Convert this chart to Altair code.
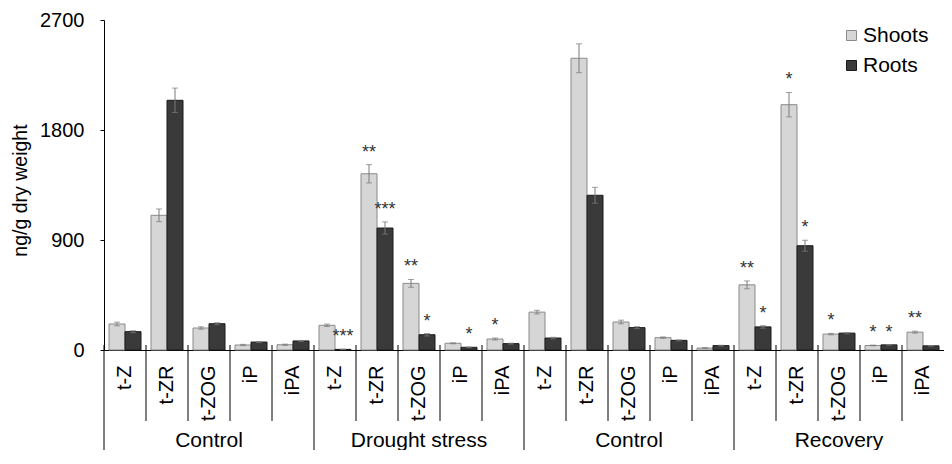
import altair as alt
import pandas as pd

FONT = "Liberation Sans, Arial, sans-serif"

groups = ["Control", "Drought stress", "Control", "Recovery"]
hormones = ["t-Z", "t-ZR", "t-ZOG", "iP", "iPA"]
series = ["Shoots", "Roots"]

shoots = [213, 1102, 180, 41, 43,
          202, 1442, 545, 55, 90,
          310, 2387, 229, 101, 16,
          533, 2007, 130, 37, 146]
roots = [150, 2043, 215, 65, 74,
         5, 998, 125, 22, 52,
         98, 1266, 183, 79, 36,
         189, 853, 138, 42, 34]
shoots_err = [15, 52, 10, 5, 5,
              10, 75, 32, 4, 8,
              15, 118, 15, 6, 3,
              32, 100, 6, 3, 8]
roots_err = [8, 100, 8, 4, 4,
             2, 50, 10, 3, 4,
             6, 65, 8, 4, 3,
             10, 45, 5, 3, 3]
shoots_sig = ["", "", "", "", "",
              "", "**", "**", "", "*",
              "", "", "", "", "",
              "**", "*", "*", "*", "**"]
roots_sig = ["", "", "", "", "",
             "***", "***", "*", "*", "",
             "", "", "", "", "",
             "*", "*", "", "*", ""]
y_ticks = [0, 900, 1800, 2700]

keys = [f"{gi}|{h}" for gi in range(len(groups)) for h in hormones]

rows = []
for i, k in enumerate(keys):
    for s, vals, errs, sigs in (("Shoots", shoots, shoots_err, shoots_sig),
                                ("Roots", roots, roots_err, roots_sig)):
        rows.append({"key": k, "series": s, "value": vals[i],
                     "lo": vals[i] - errs[i], "hi": vals[i] + errs[i],
                     "sig": sigs[i]})
df = pd.DataFrame(rows)

cat_df = pd.DataFrame({"key": keys,
                       "start": [i % len(hormones) == 0 for i in range(len(keys))]})
grp_df = pd.DataFrame({"key": [f"{gi}|{hormones[2]}" for gi in range(len(groups))],
                       "label": groups})

xoff = alt.XOffset("series:N", sort=series,
                   scale=alt.Scale(domain=series, paddingInner=0, paddingOuter=0.3125))
x_plain = alt.X("key:N", sort=keys)

bars = alt.Chart(df).mark_bar(strokeWidth=1).encode(
    x=alt.X("key:N", sort=keys, title=None,
            scale=alt.Scale(paddingInner=0, paddingOuter=0),
            axis=alt.Axis(labelExpr="split(datum.value, '|')[1]", labelAngle=270,
                          labelFontSize=20, labelFont=FONT, labelColor="#000",
                          labelPadding=15, ticks=False, domainColor="#000",
                          domainWidth=1, grid=False, title=None)),
    xOffset=xoff,
    y=alt.Y("value:Q", scale=alt.Scale(domain=[0, 2700], nice=False, zero=True),
            title="ng/g dry weight",
            axis=alt.Axis(values=y_ticks, format="d", tickSize=4, labelPadding=16,
                          labelFontSize=20, labelFont=FONT, labelColor="#000",
                          tickColor="#000", domainColor="#000", grid=False,
                          title="ng/g dry weight", titleFont=FONT, titleFontSize=19.5,
                          titleFontWeight="normal", titleColor="#000",
                          titleAngle=270, titleX=-84, titleY=170,
                          titleAlign="center", titleBaseline="middle")),
    fill=alt.Fill("series:N", sort=series,
                  scale=alt.Scale(domain=series, range=["#d6d6d6", "#3a3a3a"]),
                  legend=alt.Legend(title=None, orient="none", legendX=737, legendY=5,
                                    symbolType="square", symbolSize=100,
                                    labelFontSize=21, labelFont=FONT, labelColor="#000",
                                    labelOffset=1, rowPadding=8, padding=0,
                                    symbolStrokeColor="#808080", symbolStrokeWidth=1)),
    stroke=alt.Stroke("series:N", sort=series,
                      scale=alt.Scale(domain=series, range=["#8a8a8a", "#1a1a1a"]),
                      legend=None),
)

err_rule = alt.Chart(df).mark_rule(color="#7a7a7a", strokeWidth=1).encode(
    x=x_plain, xOffset=xoff, y="lo:Q", y2="hi:Q")
cap_hi = alt.Chart(df).mark_tick(color="#7a7a7a", thickness=1, size=6).encode(
    x=x_plain, xOffset=xoff, y="hi:Q")
cap_lo = alt.Chart(df).mark_tick(color="#7a7a7a", thickness=1, size=6).encode(
    x=x_plain, xOffset=xoff, y="lo:Q")

stars = alt.Chart(df).transform_filter("datum.sig != ''").mark_text(
    font=FONT, fontSize=18, color="#333", baseline="alphabetic", align="center", dy=-7
).encode(x=x_plain, xOffset=xoff, y="hi:Q", text="sig:N")

sep_inner = alt.Chart(cat_df).transform_filter("!datum.start").mark_rule(
    color="#000", strokeWidth=1).encode(
    x=alt.X("key:N", sort=keys, bandPosition=0),
    y=alt.value(325), y2=alt.value(401))
sep_group = alt.Chart(cat_df).transform_filter("datum.start").mark_rule(
    color="#000", strokeWidth=1).encode(
    x=alt.X("key:N", sort=keys, bandPosition=0),
    y=alt.value(325), y2=alt.value(440))

grp_text = alt.Chart(grp_df).mark_text(
    font=FONT, fontSize=21, color="#000", baseline="alphabetic", align="center"
).encode(x=x_plain, y=alt.value(427), text="label:N")

chart = alt.layer(bars, err_rule, cap_hi, cap_lo, stars, sep_inner, sep_group, grp_text).properties(
    width=840, height=330,
    padding={"left": 96, "top": 12, "right": 0, "bottom": 100},
    autosize="none",
    background="white",
).configure_view(stroke=None)

chart.save("out.html", embed_options={"renderer": "svg", "actions": False})
